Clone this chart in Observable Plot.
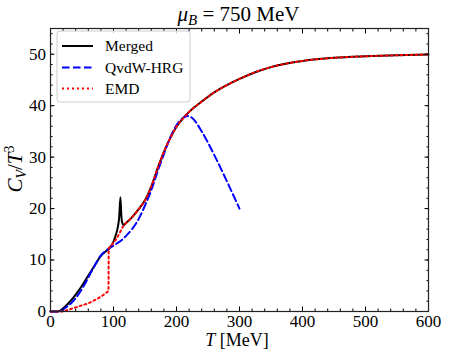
<!DOCTYPE html>
<html><head><meta charset="utf-8">
<script src="https://cdn.jsdelivr.net/npm/d3@7"></script>
<script src="https://cdn.jsdelivr.net/npm/@observablehq/plot@0.6"></script>
<style>body{margin:0;background:#fff}</style>
</head><body><div id="chart"></div><script>
// Merged (black solid)
const mergedT = [0, 12, 20, 30, 40, 50, 60, 70, 80, 90, 95, 100, 104, 107, 109, 111, 112.5, 114, 116, 120, 130, 140, 150, 160, 170, 180, 190, 200, 210, 220, 240, 260, 280, 300, 325, 350, 375, 400, 450, 500, 550, 600];
const mergedC = [0, 0, 0.6, 1.8, 3.3, 5.0, 7.0, 8.9, 10.8, 11.9, 12.5, 13.6, 15.0, 16.5, 18.3, 22.2, 18.5, 17.2, 16.8, 17.2, 18.4, 19.9, 21.6, 24.3, 27.8, 31.0, 33.7, 35.9, 37.5, 38.8, 40.8, 42.6, 44.0, 45.2, 46.5, 47.5, 48.2, 48.7, 49.3, 49.6, 49.8, 49.95];
// QvdW-HRG (blue dashed)
const hrgT = [0, 15, 20, 30, 40, 50, 60, 70, 80, 90, 100, 110, 120, 130, 140, 150, 160, 170, 180, 190, 200, 210, 218, 225, 240, 260, 280, 300];
const hrgC = [0, 0, 0.4, 1.3, 2.6, 4.4, 6.6, 8.9, 10.9, 12.0, 12.8, 13.6, 14.7, 16.1, 18.0, 20.6, 23.6, 27.2, 30.6, 33.8, 36.2, 37.6, 38.0, 37.6, 35.0, 30.4, 25.3, 20.0];
// EMD (red dotted)
const emdT = [0, 20, 25, 30, 40, 50, 60, 70, 80, 88, 92, 92.5, 95, 100, 105, 110, 115, 120, 130, 140, 150, 160, 170, 180, 190, 200, 210, 220, 240, 260, 280, 300, 325, 350, 375, 400, 450, 500, 550, 600];
const emdC = [0, 0, 0.2, 0.4, 0.8, 1.2, 1.6, 2.2, 2.9, 3.6, 4.1, 12.3, 12.6, 13.4, 14.2, 15.3, 16.5, 17.2, 18.4, 19.9, 21.6, 24.3, 27.8, 31.0, 33.7, 35.9, 37.5, 38.8, 40.8, 42.6, 44.0, 45.2, 46.5, 47.5, 48.2, 48.7, 49.3, 49.6, 49.8, 49.95];

const xMajor = [0, 100, 200, 300, 400, 500, 600];
const xMinor = d3.range(0, 601, 20);
const yMajor = [0, 10, 20, 30, 40, 50];
const yMinor = d3.range(0, 55.1, 2);
const legendLabels = ["Merged", "QvdW-HRG", "EMD"];

const rows = (T, C) => T.map((t, i) => ({T: t, C: C[i]}));
const merged = rows(mergedT, mergedC), hrg = rows(hrgT, hrgC), emd = rows(emdT, emdC);

const FF = "'Liberation Serif', 'Tinos', 'DejaVu Serif', 'Times New Roman', serif";
const ML = 50, MR = 21, MT = 28, MB = 47, W = 449, H = 358;
const noText = () => "";
const plot = Plot.plot({
  width: W, height: H,
  marginLeft: ML, marginRight: MR, marginTop: MT, marginBottom: MB,
  style: {background: "white", color: "black"},
  x: {domain: [0, 600]},
  y: {domain: [0, 55]},
  marks: [
    Plot.line(merged, {x: "T", y: "C", stroke: "black", strokeWidth: 2, curve: "monotone-x"}),
    Plot.line(hrg, {x: "T", y: "C", stroke: "#0000ff", strokeWidth: 2, strokeDasharray: "7.5,3.5", curve: "monotone-x"}),
    Plot.line(emd, {x: "T", y: "C", stroke: "#ff0000", strokeWidth: 2, strokeDasharray: "2,3", curve: "monotone-x"}),
    Plot.axisX(xMajor, {anchor: "bottom", tickSize: -4.5, tickPadding: 8, label: null, fontSize: 17, fontFamily: FF}),
    Plot.axisX(xMinor, {anchor: "bottom", tickSize: -2.5, tickFormat: noText, label: null}),
    Plot.axisX(xMajor, {anchor: "top", tickSize: -4.5, tickFormat: noText, label: null}),
    Plot.axisX(xMinor, {anchor: "top", tickSize: -2.5, tickFormat: noText, label: null}),
    Plot.axisY(yMajor, {anchor: "left", tickSize: -4.5, tickPadding: 9, label: null, fontSize: 17, fontFamily: FF}),
    Plot.axisY(yMinor, {anchor: "left", tickSize: -2.5, tickFormat: noText, label: null}),
    Plot.axisY(yMajor, {anchor: "right", tickSize: -4.5, tickFormat: noText, label: null}),
    Plot.axisY(yMinor, {anchor: "right", tickSize: -2.5, tickFormat: noText, label: null}),
    Plot.frame({stroke: "#222", strokeWidth: 1.2})
  ]
});
document.getElementById("chart").appendChild(plot);

const svg = d3.select(plot);
svg.selectAll("text").attr("font-family", FF).attr("font-size", 17);
const cx = (ML + W - MR) / 2;
function centerAt(sel, x) {
  const bb = sel.node().getBBox();
  sel.attr("x", x - bb.width / 2);
}
// Title
const title = svg.append("text").attr("x", 0).attr("y", 21).attr("text-anchor", "start")
  .attr("font-size", 21).attr("font-family", FF).attr("fill", "black");
title.append("tspan").attr("font-style", "italic").text("μ");
title.append("tspan").attr("font-style", "italic").attr("font-size", 15).attr("dy", 4).text("B");
title.append("tspan").attr("dy", -4).text(" = 750 MeV");
centerAt(title, cx);
// X label
const xl = svg.append("text").attr("x", 0).attr("y", 346).attr("text-anchor", "start")
  .attr("font-size", 18).attr("font-family", FF).attr("fill", "black");
xl.append("tspan").attr("font-style", "italic").text("T");
xl.append("tspan").text(" [MeV]");
centerAt(xl, cx - 2);
// Y label
const yl = svg.append("text").attr("transform", "translate(22,169) rotate(-90)")
  .attr("text-anchor", "middle").attr("font-size", 21).attr("font-family", FF).attr("fill", "black");
yl.append("tspan").attr("font-style", "italic").text("C");
yl.append("tspan").attr("font-style", "italic").attr("font-size", 14).attr("dy", 4).text("V");
yl.append("tspan").attr("dy", -4).text("/");
yl.append("tspan").attr("font-style", "italic").text("T");
yl.append("tspan").attr("font-size", 14).attr("dy", -8).text("3");
// Legend
const lg = svg.append("g");
lg.append("rect").attr("x", 57).attr("y", 31).attr("width", 133).attr("height", 71).attr("rx", 3)
  .attr("fill", "white").attr("fill-opacity", 0.8).attr("stroke", "#cccccc");
const styles = [
  {color: "black", dash: null, y: 46},
  {color: "#0000ff", dash: "7.5,3.5", y: 67.5},
  {color: "#ff0000", dash: "2,3", y: 88.5}
];
legendLabels.forEach((label, i) => {
  const it = styles[i];
  lg.append("line").attr("x1", 62).attr("x2", 93).attr("y1", it.y).attr("y2", it.y)
    .attr("stroke", it.color).attr("stroke-width", 2).attr("stroke-dasharray", it.dash);
  lg.append("text").attr("x", 105).attr("y", it.y + 5).attr("text-anchor", "start")
    .attr("font-size", 15.5).attr("font-family", FF).attr("fill", "black").text(label);
});
</script></body></html>
